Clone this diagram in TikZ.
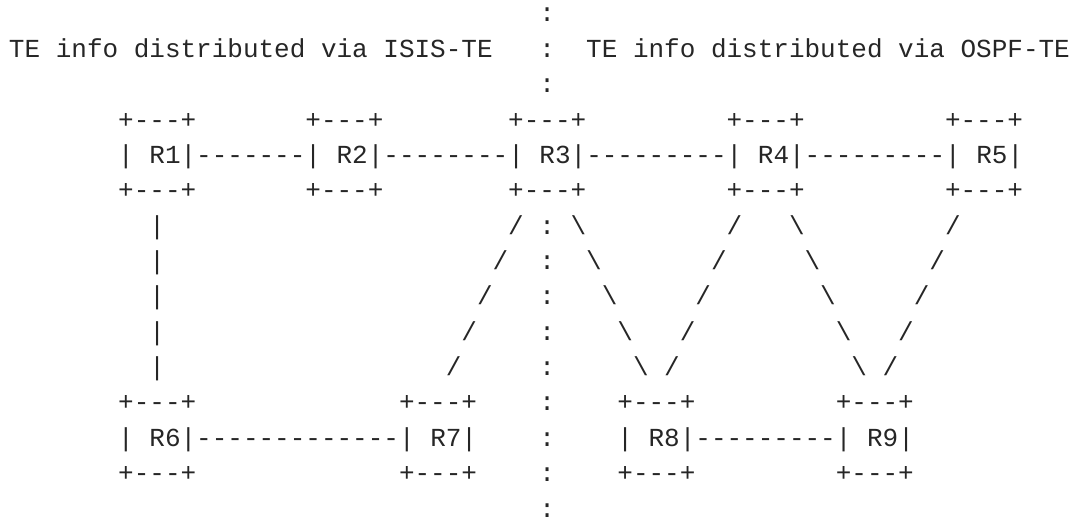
\documentclass[tikz,border=0pt]{standalone}
\usepackage{fontspec}
\setmonofont{Liberation Mono}
\usetikzlibrary{positioning}

\begin{document}
\begin{tikzpicture}[
    x = 7.8pt, y = -17.68pt,
    every node/.style = {inner sep=0pt, outer sep=0pt, anchor=base west,
        text=black!85, font=\ttfamily\fontsize{13}{17.68}\selectfont},
]
\useasboundingbox (0pt,0pt) rectangle (537pt,-261pt);
\begin{scope}[shift={(4.5pt,-11pt)}]

% Headings and domain border
\node (isis) at (0,1) {TE info distributed via ISIS-TE};
\node (ospf) at (37,1) {TE info distributed via OSPF-TE};
\foreach \r in {0,1,2,6,7,8,9,10,11,12,13,14}
    \node (sep\r) at (34,\r) {:};

% Upper row of routers
\node (R1t) at (7,3) {+---+};
\node (R2t) at (19,3) {+---+};
\node (R3t) at (32,3) {+---+};
\node (R4t) at (46,3) {+---+};
\node (R5t) at (60,3) {+---+};

\node (R1) at (7,4) {|~R1|};
\node[base right=0pt of R1] (l12) {-------};
\node[base right=0pt of l12] (R2) {|~R2|};
\node[base right=0pt of R2] (l23) {--------};
\node[base right=0pt of l23] (R3) {|~R3|};
\node[base right=0pt of R3] (l34) {---------};
\node[base right=0pt of l34] (R4) {|~R4|};
\node[base right=0pt of R4] (l45) {---------};
\node[base right=0pt of l45] (R5) {|~R5|};

\node (R1b) at (7,5) {+---+};
\node (R2b) at (19,5) {+---+};
\node (R3b) at (32,5) {+---+};
\node (R4b) at (46,5) {+---+};
\node (R5b) at (60,5) {+---+};

% Links between the rows
\foreach \k in {0,...,4} {
    \node at (9,6+\k) {|};
    \node at (32-\k,6+\k) {/};
    \node at (36+\k,6+\k) {\textbackslash};
    \node at (46-\k,6+\k) {/};
    \node at (50+\k,6+\k) {\textbackslash};
    \node at (60-\k,6+\k) {/};
}

% Lower row of routers
\node (R6t) at (7,11) {+---+};
\node (R7t) at (25,11) {+---+};
\node (R8t) at (39,11) {+---+};
\node (R9t) at (53,11) {+---+};

\node (R6) at (7,12) {|~R6|};
\node[base right=0pt of R6] (l67) {-------------};
\node[base right=0pt of l67] (R7) {|~R7|};
\node (R8) at (39,12) {|~R8|};
\node[base right=0pt of R8] (l89) {---------};
\node[base right=0pt of l89] (R9) {|~R9|};

\node (R6b) at (7,13) {+---+};
\node (R7b) at (25,13) {+---+};
\node (R8b) at (39,13) {+---+};
\node (R9b) at (53,13) {+---+};

\end{scope}
\end{tikzpicture}
\end{document}
